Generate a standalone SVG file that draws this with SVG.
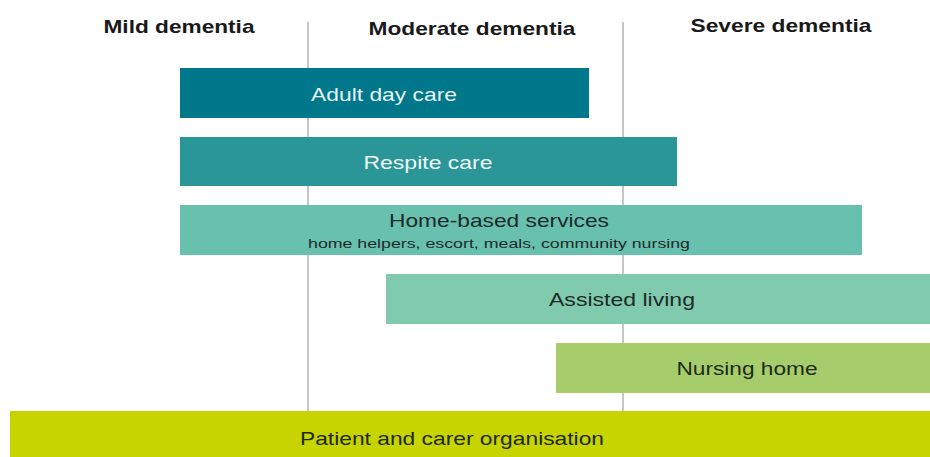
<svg xmlns="http://www.w3.org/2000/svg" width="930" height="457" viewBox="0 0 930 457">
  <style>
    .hdr { font-family: "Liberation Sans", Arial, sans-serif; font-size: 19px; font-weight: bold; fill: #1a1a1a; text-anchor: middle; }
    .lbl { font-family: "Liberation Sans", Arial, sans-serif; font-size: 19px; text-anchor: middle; }
    .sub { font-family: "Liberation Sans", Arial, sans-serif; font-size: 13.5px; text-anchor: middle; fill: #1f2a2a; }
    .divider { stroke: #a0a0a0; stroke-width: 1.2; }
  </style>
  <rect width="930" height="457" fill="#ffffff"/>

  <!-- stage dividers -->
  <g id="dividers">
    <line class="divider" x1="308" y1="22" x2="308" y2="412"/>
    <line class="divider" x1="623" y1="22" x2="623" y2="412"/>
  </g>

  <!-- stage headings -->
  <g id="headings">
    <text class="hdr" x="179" y="33" textLength="151" lengthAdjust="spacingAndGlyphs">Mild dementia</text>
    <text class="hdr" x="472" y="35" textLength="207" lengthAdjust="spacingAndGlyphs">Moderate dementia</text>
    <text class="hdr" x="781" y="32" textLength="181" lengthAdjust="spacingAndGlyphs">Severe dementia</text>
  </g>

  <g id="adult-day-care">
    <rect x="180" y="68" width="409" height="50" fill="#00778a"/>
    <text class="lbl" x="384" y="101" textLength="146" lengthAdjust="spacingAndGlyphs" fill="#e6f4f5">Adult day care</text>
  </g>

  <g id="respite-care">
    <rect x="180" y="137" width="497" height="49" fill="#2a9698"/>
    <text class="lbl" x="428" y="169" textLength="129" lengthAdjust="spacingAndGlyphs" fill="#eef8f7">Respite care</text>
  </g>

  <g id="home-based-services">
    <rect x="180" y="205" width="682" height="50" fill="#68c0ae"/>
    <text class="lbl" x="499" y="227" textLength="220" lengthAdjust="spacingAndGlyphs" fill="#1d2b2a">Home-based services</text>
    <text class="sub" x="499" y="248" textLength="382" lengthAdjust="spacingAndGlyphs">home helpers, escort, meals, community nursing</text>
  </g>

  <g id="assisted-living">
    <rect x="386" y="274" width="544" height="50" fill="#80caad"/>
    <text class="lbl" x="622" y="306" textLength="146" lengthAdjust="spacingAndGlyphs" fill="#1d2b2a">Assisted living</text>
  </g>

  <g id="nursing-home">
    <rect x="556" y="343" width="374" height="50" fill="#a6cc6c"/>
    <text class="lbl" x="747" y="375" textLength="141" lengthAdjust="spacingAndGlyphs" fill="#1d2b1a">Nursing home</text>
  </g>

  <g id="patient-carer-organisation">
    <rect x="10" y="411" width="920" height="46" fill="#c8d400"/>
    <text class="lbl" x="452" y="445" textLength="304" lengthAdjust="spacingAndGlyphs" fill="#1d2a10">Patient and carer organisation</text>
  </g>
</svg>
